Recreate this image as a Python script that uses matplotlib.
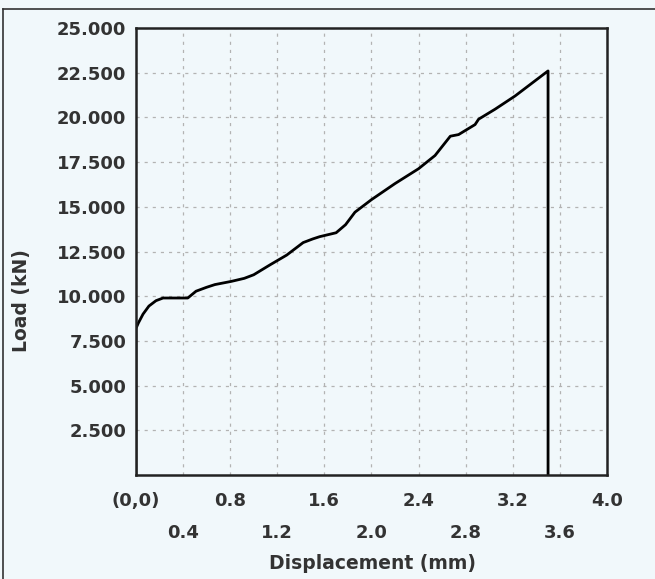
import matplotlib.pyplot as plt
from matplotlib.lines import Line2D
from matplotlib.ticker import FuncFormatter

# Load-displacement curve
displacement = [0.0, 0.0, 0.02, 0.06, 0.11, 0.17, 0.23, 0.44, 0.51, 0.60, 0.67,
                0.81, 0.92, 1.00, 1.14, 1.28, 1.42, 1.50, 1.56, 1.70, 1.78,
                1.86, 2.00, 2.20, 2.40, 2.54, 2.67, 2.74, 2.88, 2.91, 3.05,
                3.22, 3.50, 3.50]
load = [0.0, 8.2, 8.5, 9.0, 9.45, 9.75, 9.9, 9.9, 10.28, 10.5, 10.65,
        10.83, 11.0, 11.2, 11.76, 12.3, 13.0, 13.2, 13.33, 13.55, 14.0,
        14.7, 15.4, 16.3, 17.13, 17.87, 18.95, 19.04, 19.6, 19.9, 20.46,
        21.2, 22.6, 0.0]

x_ticks = [0.0, 0.4, 0.8, 1.2, 1.6, 2.0, 2.4, 2.8, 3.2, 3.6, 4.0]
x_labels = ['(0,0)', '\n0.4', '0.8', '\n1.2', '1.6', '\n2.0', '2.4',
            '\n2.8', '3.2', '\n3.6', '4.0']
y_ticks = [2.5, 5.0, 7.5, 10.0, 12.5, 15.0, 17.5, 20.0, 22.5, 25.0]

bg = '#f1f8fb'
txt = '#333333'

fig = plt.figure(figsize=(6.55, 5.79), dpi=100, facecolor=bg)
ax = fig.add_axes([0.2076, 0.1796, 0.719, 0.772], facecolor=bg)

ax.plot(displacement, load, color='black', lw=2.0, solid_joinstyle='round')

ax.set_xlim(0, 4.0)
ax.set_ylim(0, 25.0)
ax.set_xticks(x_ticks)
ax.set_xticklabels(x_labels)
ax.set_yticks(y_ticks)
# European style thousands separator: 25.000 etc.
ax.yaxis.set_major_formatter(FuncFormatter(lambda v, p: f'{v:.3f}'))

ax.tick_params(axis='both', length=0, labelsize=13, labelcolor=txt)
ax.tick_params(axis='x', pad=12)
ax.tick_params(axis='y', pad=7)
for t in ax.get_xticklabels() + ax.get_yticklabels():
    t.set_fontweight('bold')
for t in ax.get_xticklabels():
    t.set_linespacing(2.05)

ax.grid(True, color='#b3b3b3', lw=0.9, linestyle=(0, (2.5, 4)))
ax.set_axisbelow(True)

for s in ax.spines.values():
    s.set_linewidth(1.8)
    s.set_color('#222222')

ax.set_xlabel('Displacement (mm)', fontsize=13.5, fontweight='bold', color=txt)
ax.set_ylabel('Load (kN)', fontsize=13.5, fontweight='bold', color=txt)
ax.xaxis.set_label_coords(0.503, -0.176)
ax.yaxis.set_label_coords(-0.222, 0.39)

# thin frame of the scanned figure (top and left edges)
fig.add_artist(Line2D([0.005, 1.0], [0.984, 0.984], color='#333333', lw=1.2))
fig.add_artist(Line2D([0.005, 0.005], [0.0, 0.984], color='#333333', lw=1.2))

fig.savefig('out.png', dpi=100, facecolor=bg)
